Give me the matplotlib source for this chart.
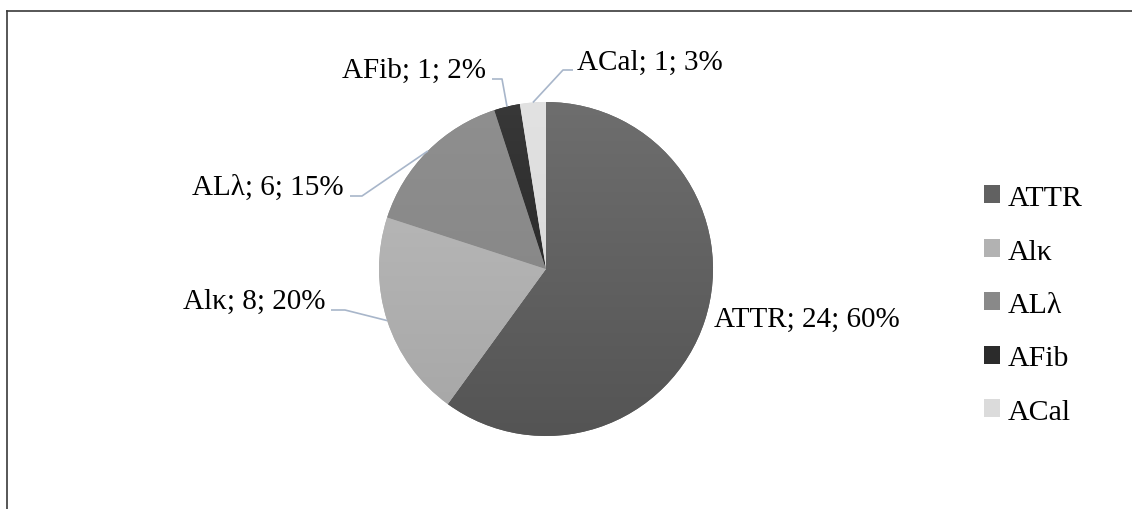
import numpy as np
import matplotlib
matplotlib.use("Agg")
import matplotlib.pyplot as plt
from matplotlib.colors import LinearSegmentedColormap
from matplotlib.lines import Line2D

# Amyloidosis types and case counts
categories = ["ATTR", "Alκ", "ALλ", "AFib", "ACal"]
counts = [24, 8, 6, 1, 1]
pct_labels = ["60%", "20%", "15%", "2%", "3%"]

# Grey shades per slice (top, bottom of a soft vertical gradient)
shades = [("#6e6e6e", "#545454"),
          ("#bdbdbd", "#a6a6a6"),
          ("#8f8f8f", "#828282"),
          ("#383838", "#1e1e1e"),
          ("#e2e2e2", "#d4d4d4")]

W, H = 1132, 510
fig = plt.figure(figsize=(W / 100, H / 100), dpi=100)
ax = fig.add_axes([0, 0, 1, 1])

cx, cy, R = 546, H - 270, 167

wedges, _ = ax.pie(counts, startangle=90, counterclock=False,
                   center=(cx, cy), radius=R, frame=True,
                   colors=[((int(a[1:3], 16) + int(b[1:3], 16)) / 510,) * 3
                           for a, b in shades],
                   wedgeprops=dict(linewidth=0))

# Gradient overlay clipped to each slice
grad = np.linspace(0, 1, 256).reshape(-1, 1)
for w, (top, bot) in zip(wedges, shades):
    cmap = LinearSegmentedColormap.from_list("g", [bot, top])
    im = ax.imshow(grad, cmap=cmap, origin="lower", aspect="auto",
                   extent=(cx - R, cx + R, cy - R, cy + R), zorder=w.get_zorder() + 0.1)
    im.set_clip_path(w)

ax.set_xlim(0, W)
ax.set_ylim(0, H)
ax.set_aspect("equal")
ax.axis("off")

font = dict(family="Liberation Serif", size=21, color="black")
leader = dict(color="#a8b6ca", lw=1.2)

# Data labels: (text anchor x, text anchor y, alignment, elbow x) in pixels
label_layout = [
    (714, 320, "left", None),
    (325, 302, "right", 345),
    (344, 188, "right", 362),
    (486, 71, "right", 502),
    (577, 63, "left", 563),
]

total = sum(counts)
start = 0.0
for i, (cat, n, pct) in enumerate(zip(categories, counts, pct_labels)):
    frac = n / total
    mid = 2 * np.pi * (start + frac / 2)
    start += frac
    ex = cx + R * np.sin(mid)
    ey = cy + R * np.cos(mid)
    tx, ty, ha, elbow = label_layout[i]
    ax.text(tx, H - ty, f"{cat}; {n}; {pct}", ha=ha, va="center", **font)
    if elbow is not None:
        ly = H - (ty + (9 if i != 4 else 8))
        x0 = tx + 6 if ha == "right" else tx - 4
        ax.plot([x0, elbow, ex], [ly, ly, ey], **leader, solid_capstyle="butt")

leg = ax.legend(wedges, categories, loc="center left",
                bbox_to_anchor=(984 / W, 1 - 306 / H),
                frameon=False, prop=dict(family="Liberation Serif", size=21.5),
                handlelength=0.55, handleheight=0.55, handletextpad=0.25,
                labelspacing=0.92, borderpad=0, borderaxespad=0)

# Chart frame (left and top edges)
fig.add_artist(Line2D([7 / W, 7 / W], [0, 1 - 12 / H], color="#3a3a3a", lw=1.2,
                      transform=fig.transFigure))
fig.add_artist(Line2D([7 / W, 1], [1 - 12 / H, 1 - 12 / H], color="#3a3a3a", lw=1.2,
                      transform=fig.transFigure))

fig.savefig("out.png", dpi=100, facecolor="white")
